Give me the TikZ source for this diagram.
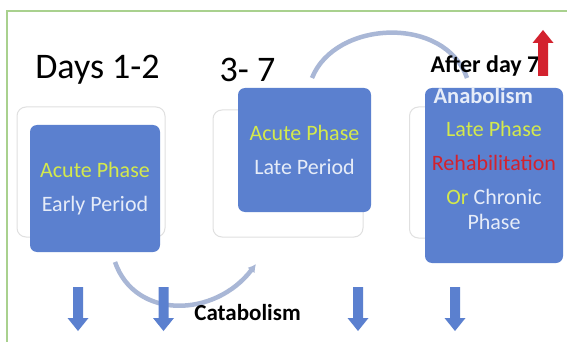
\documentclass[tikz,border=0pt]{standalone}
\usepackage{fontspec}
\setmainfont{Carlito}
\usepackage{xcolor}
\usetikzlibrary{arrows.meta,positioning}
\definecolor{PBlue}{HTML}{5B80CF}
\definecolor{PLime}{HTML}{D4E94C}
\definecolor{PPale}{HTML}{E6ECF8}
\definecolor{PRed}{HTML}{D3222E}
\definecolor{PArc}{HTML}{A9B7D6}
\definecolor{PFrame}{HTML}{A9D18E}
\definecolor{PGhost}{HTML}{E0E0E0}

\begin{document}
\begin{tikzpicture}[x=1pt,y=-1pt,
  phase/.style={fill=PBlue,rounded corners=7pt,inner sep=0pt,
    align=center,font=\fontsize{22}{25}\selectfont,text=PPale},
  ghost/.style={draw=PGhost,line width=1pt,rounded corners=9pt,
    inner sep=0pt},
  day/.style={font=\fontsize{36}{40}\selectfont,text=black},
  tag/.style={font=\bfseries\fontsize{23}{26}\selectfont,text=black},
  arc/.style={line width=4.5pt,color=PArc},
  blockdown/.style={fill=PBlue},
  blockup/.style={fill=PRed}
]
  \useasboundingbox (0,0) rectangle (567,342);
  \fill[white] (0,0) rectangle (567,342);
  \draw[PFrame,line width=1.5pt] (7,342) -- (7,11) -- (567,11);

  % ghost outlines behind the phase boxes
  \node[ghost,minimum width=148pt,minimum height=130pt] (g1) at (91,172) {};
  \node[ghost,minimum width=150pt,minimum height=127pt] (g2) at (288,173.5) {};
  \node[ghost,minimum width=145pt,minimum height=131pt] (g3) at (482,172.5) {};

  % top arc, box 2 to box 3
  \coordinate (t1) at (312,78);
  \coordinate (t2) at (467,78);
  \draw[arc] (t1) .. controls (335,20) and (445,15) .. (t2);

  % phase boxes
  \node[phase,minimum width=130pt,minimum height=127pt] (b1) at (95,188.5)
    {\textcolor{PLime}{Acute Phase}\\[9pt]Early Period};
  \node[phase,minimum width=133pt,minimum height=124pt] (b2) at (304.5,150)
    {\textcolor{PLime}{Acute Phase}\\[9pt]Late Period};
  \node[phase,minimum width=138pt,minimum height=175pt] (b3) at (494,175.5)
    {\textcolor{PLime}{Late Phase}\\[9pt]\textcolor{PRed}{Rehabilitation}\\[9pt]%
     \textcolor{PLime}{Or} Chronic\\Phase};
  \node[font=\bfseries\fontsize{22.5}{25}\selectfont,text=PPale,anchor=west]
    (ana) at (430,96) {Anabolism};

  % day labels
  \node[day] (d1) at (97.5,70) {Days 1-2};
  \node[day] (d2) at (247.5,70) {3- 7};
  \node[tag,font=\bfseries\fontsize{24}{27}\selectfont] (after) at (485,66) {After day 7};

  % bottom arc, box 1 to box 2
  \coordinate (c1) at (115,262);
  \coordinate (c2) at (256,264);
  \draw[arc,-{Latex[length=8pt,width=9pt]}] (c1) .. controls (135,320) and (215,318) .. (c2);
  \node[tag] (cata) at (247.5,313) {Catabolism};

  % block arrows
  \foreach \ax in {78,163.5,358,455}
    {\fill[blockdown] (\ax-5,287) -- (\ax+5,287) -- (\ax+5,318) -- (\ax+10.5,318)
      -- (\ax,331) -- (\ax-10.5,318) -- (\ax-5,318) -- cycle;}
  \fill[blockup] (538,76) -- (548,76) -- (548,43) -- (553.5,43) -- (543,30)
    -- (532.5,43) -- (538,43) -- cycle;
\end{tikzpicture}
\end{document}
